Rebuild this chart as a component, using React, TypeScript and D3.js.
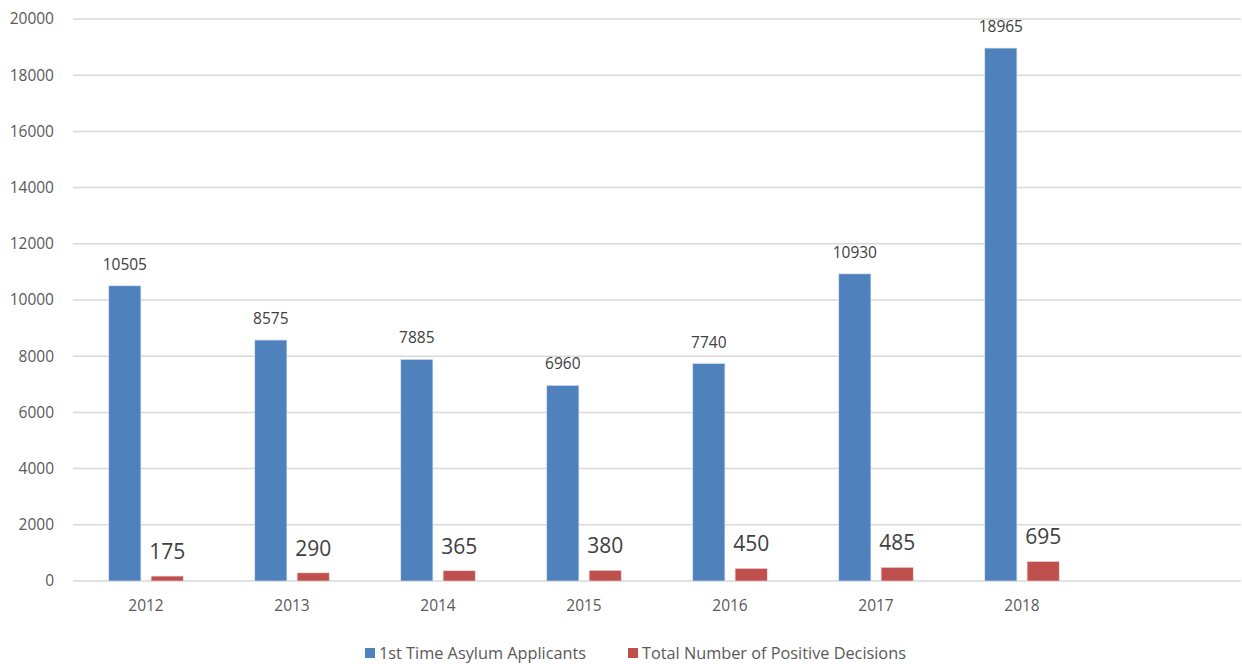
import * as d3 from "d3";

const YEARS = ["2012", "2013", "2014", "2015", "2016", "2017", "2018", ""];
const APPLICANTS = [10505, 8575, 7885, 6960, 7740, 10930, 18965];
const POSITIVE = [175, 290, 365, 380, 450, 485, 695];
const Y_TICKS = [0, 2000, 4000, 6000, 8000, 10000, 12000, 14000, 16000, 18000, 20000];
const SERIES = [
  { name: "1st Time Asylum Applicants", color: "#4f81bd" },
  { name: "Total Number of Positive Decisions", color: "#c0504d" },
];

const W = 1242;
const H = 664;
const FONT = "'Open Sans', 'Noto Sans', sans-serif";

export default function App() {
  const margin = { top: 19, right: 1, bottom: 83, left: 73 };
  const x = d3
    .scaleBand()
    .domain(YEARS)
    .range([margin.left, W - margin.right]);
  const y = d3
    .scaleLinear()
    .domain([0, 20000])
    .range([H - margin.bottom, margin.top]);

  const bw = x.bandwidth();
  const outer = bw * 0.245;
  const barW = bw * 0.22;
  const gap = bw - 2 * outer - 2 * barW;

  return (
    <svg
      width={W}
      height={H}
      style={{ position: "absolute", left: 0, top: 0, background: "#fff" }}
      fontFamily={FONT}
    >
      {/* grid + y ticks */}
      {Y_TICKS.map((t) => (
        <g key={t}>
          <line
            x1={margin.left}
            x2={W - margin.right}
            y1={y(t)}
            y2={y(t)}
            stroke="#d9d9d9"
            strokeWidth={1.5}
          />
          <text
            x={54}
            y={y(t)}
            dy="0.35em"
            textAnchor="end"
            fontSize={15.5}
            fill="#595959"
          >
            {t}
          </text>
        </g>
      ))}

      {/* bars */}
      {APPLICANTS.map((v, i) => {
        const x0 = (x(YEARS[i]) ?? 0) + outer;
        return (
          <g key={"a" + i}>
            <rect
              x={x0}
              y={y(v)}
              width={barW}
              height={y(0) - y(v)}
              fill={SERIES[0].color}
              stroke="#dbe5f1"
              strokeWidth={0.6}
            />
            <text
              x={x0 + barW / 2}
              y={y(v) - 16}
              textAnchor="middle"
              fontSize={15.5}
              fill="#404040"
            >
              {v}
            </text>
          </g>
        );
      })}
      {POSITIVE.map((v, i) => {
        const x0 = (x(YEARS[i]) ?? 0) + outer + barW + gap;
        return (
          <g key={"p" + i}>
            <rect
              x={x0}
              y={y(v)}
              width={barW}
              height={y(0) - y(v)}
              fill={SERIES[1].color}
              stroke="#f2dcdb"
              strokeWidth={0.6}
            />
            <text
              x={x0 + barW / 2}
              y={y(v) - 17}
              textAnchor="middle"
              fontSize={21}
              fill="#404040"
            >
              {v}
            </text>
          </g>
        );
      })}

      {/* x labels */}
      {YEARS.map((yr) => (
        <text
          key={"x" + yr}
          x={(x(yr) ?? 0) + bw / 2}
          y={606}
          dy="0.35em"
          textAnchor="middle"
          fontSize={15.5}
          fill="#595959"
        >
          {yr}
        </text>
      ))}

      {/* legend */}
      {SERIES.map((s, i) => {
        const lx = i === 0 ? 365 : 628;
        return (
          <g key={s.name}>
            <rect x={lx} y={648} width={10} height={10} fill={s.color} />
            <text x={lx + 14} y={653} dy="0.35em" fontSize={16.3} fill="#595959">
              {s.name}
            </text>
          </g>
        );
      })}
    </svg>
  );
}
